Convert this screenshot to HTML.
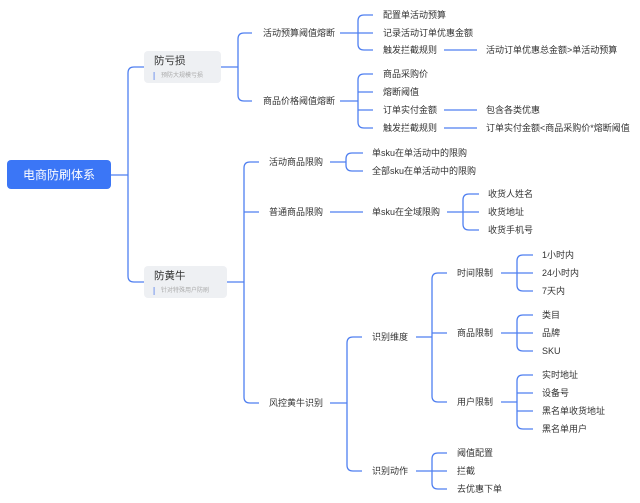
<!DOCTYPE html>
<html><head><meta charset="utf-8"><style>
html,body{margin:0;padding:0;background:#fff;}
svg{display:block;}
text{font-family:"Liberation Sans","Noto Sans CJK SC",sans-serif;font-size:9px;fill:#333;dominant-baseline:central;}
.l{fill:none;stroke:#4f7ff0;stroke-width:1.3;}
</style></head><body>
<svg width="640" height="503" viewBox="0 0 640 503" xmlns="http://www.w3.org/2000/svg">
<!-- connectors -->
<g class="l">
<!-- root -->
<path class="l" d="M111 175H128 M144 67H134Q128 67 128 73V276Q128 282 134 282H144"/>
<!-- 防亏损 -->
<path class="l" d="M221 67H238 M252 33H244Q238 33 238 39V95Q238 101 244 101H252"/>
<!-- 活动预算阈值熔断 -->
<path class="l" d="M340 33H373 M373 15H364Q358 15 358 21V44Q358 50 364 50H373 M444 50H477"/>
<!-- 商品价格阈值熔断 -->
<path class="l" d="M340 101H358 M373 74H364Q358 74 358 80V122Q358 128 364 128H373 M358 92H373 M358 110H373 M444 110H477 M444 128H477"/>
<!-- 防黄牛 -->
<path class="l" d="M227 282H244 M259 162H250Q244 162 244 168V397Q244 403 250 403H259 M244 212H259"/>
<!-- 活动商品限购 -->
<path class="l" d="M330 162H346 M363 153H352Q346 153 346 159V165Q346 171 352 171H363"/>
<!-- 普通商品限购 -->
<path class="l" d="M330 212H363"/>
<!-- 单sku在全域限购 -->
<path class="l" d="M447 212H479 M479 194H469Q463 194 463 200V224Q463 230 469 230H479"/>
<!-- 风控黄牛识别 -->
<path class="l" d="M330 403H347 M362 337H353Q347 337 347 343V465Q347 471 353 471H362"/>
<!-- 识别维度 -->
<path class="l" d="M416 337H432 M447 273H438Q432 273 432 279V396Q432 402 438 402H447 M432 333H447"/>
<!-- 时间限制 -->
<path class="l" d="M501 273H533 M533 255H523Q517 255 517 261V285Q517 291 523 291H533"/>
<!-- 商品限制 -->
<path class="l" d="M501 333H533 M533 315H523Q517 315 517 321V345Q517 351 523 351H533"/>
<!-- 用户限制 -->
<path class="l" d="M501 402H517 M533 375H523Q517 375 517 381V423Q517 429 523 429H533 M517 393H533 M517 411H533"/>
<!-- 识别动作 -->
<path class="l" d="M416 471H447 M447 453H438Q432 453 432 459V483Q432 489 438 489H447"/>
</g>

<!-- root -->
<rect x="7" y="160" width="104" height="29" rx="4" fill="#3b76f6"/>
<text x="59" y="175" text-anchor="middle" style="font-size:12px;fill:#fff">电商防刷体系</text>

<!-- 防亏损 -->
<rect x="144" y="51" width="77" height="32" rx="4" fill="#eef0f3"/>
<text x="154" y="61" style="font-size:10.5px;fill:#333">防亏损</text>
<rect x="153.5" y="72" width="1.2" height="8" fill="#8aa6ee"/>
<text x="161" y="76" style="font-size:6px;fill:#aaa">预防大规模亏损</text>

<!-- 防黄牛 -->
<rect x="144" y="266" width="83" height="32" rx="4" fill="#eef0f3"/>
<text x="154" y="276" style="font-size:10.5px;fill:#333">防黄牛</text>
<rect x="153.5" y="287" width="1.2" height="8" fill="#8aa6ee"/>
<text x="161" y="291" style="font-size:6px;fill:#aaa">针对特殊用户防刷</text>

<text x="263" y="33">活动预算阈值熔断</text>
<text x="263" y="101">商品价格阈值熔断</text>
<text x="383" y="15">配置单活动预算</text>
<text x="383" y="33">记录活动订单优惠金额</text>
<text x="383" y="50">触发拦截规则</text>
<text x="486" y="50">活动订单优惠总金额&gt;单活动预算</text>
<text x="383" y="74">商品采购价</text>
<text x="383" y="92">熔断阈值</text>
<text x="383" y="110">订单实付金额</text>
<text x="383" y="128">触发拦截规则</text>
<text x="486" y="110">包含各类优惠</text>
<text x="486" y="128">订单实付金额&lt;商品采购价*熔断阈值</text>

<text x="269" y="162">活动商品限购</text>
<text x="269" y="212">普通商品限购</text>
<text x="269" y="403">风控黄牛识别</text>
<text x="372" y="153">单sku在单活动中的限购</text>
<text x="372" y="171">全部sku在单活动中的限购</text>
<text x="372" y="212">单sku在全域限购</text>
<text x="488" y="194">收货人姓名</text>
<text x="488" y="212">收货地址</text>
<text x="488" y="230">收货手机号</text>

<text x="372" y="337">识别维度</text>
<text x="372" y="471">识别动作</text>
<text x="457" y="273">时间限制</text>
<text x="457" y="333">商品限制</text>
<text x="457" y="402">用户限制</text>
<text x="542" y="255">1小时内</text>
<text x="542" y="273">24小时内</text>
<text x="542" y="291">7天内</text>
<text x="542" y="315">类目</text>
<text x="542" y="333">品牌</text>
<text x="542" y="351">SKU</text>
<text x="542" y="375">实时地址</text>
<text x="542" y="393">设备号</text>
<text x="542" y="411">黑名单收货地址</text>
<text x="542" y="429">黑名单用户</text>
<text x="457" y="453">阈值配置</text>
<text x="457" y="471">拦截</text>
<text x="457" y="489">去优惠下单</text>
</svg>
</body></html>
